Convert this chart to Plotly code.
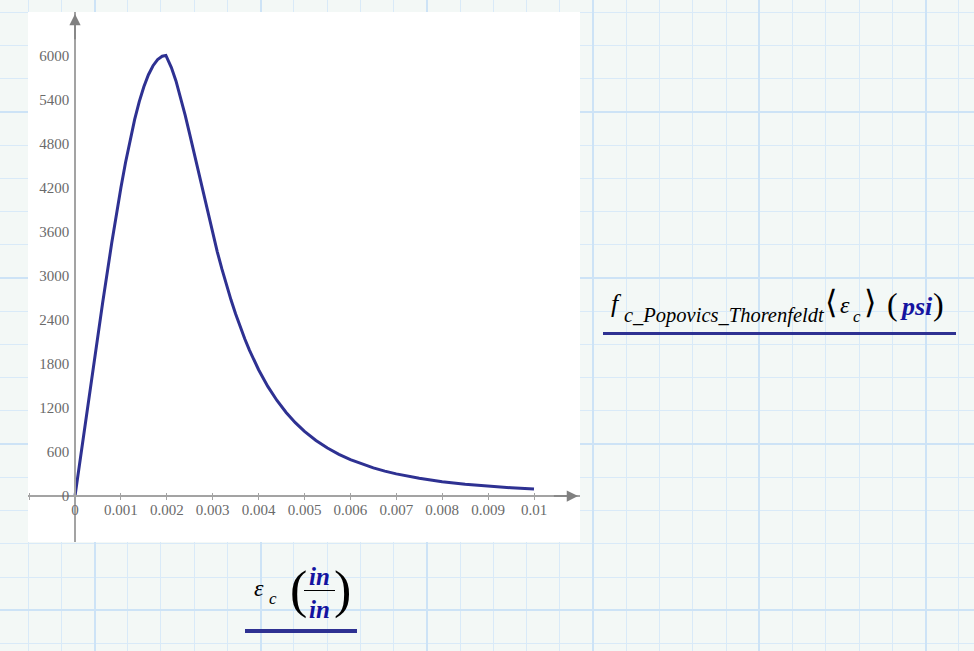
import plotly.graph_objects as go

# strain (in/in) and stress (psi)
strain = [0, 0.0002, 0.0004, 0.0006, 0.0008, 0.0009, 0.001, 0.0011, 0.0012, 0.0013,
          0.0014, 0.0015, 0.0016, 0.0017, 0.0018, 0.0019, 0.00198, 0.002, 0.0021, 0.0022,
          0.0023, 0.0024, 0.0025, 0.0026, 0.0027, 0.0028, 0.0029, 0.003, 0.0031, 0.0032,
          0.0033, 0.0034, 0.0035, 0.0036, 0.0037, 0.0038, 0.0039, 0.004, 0.0042, 0.0044,
          0.0046, 0.0048, 0.005, 0.00525, 0.0055, 0.00575, 0.006, 0.00625, 0.0065, 0.00675,
          0.007, 0.0075, 0.008, 0.0085, 0.009, 0.0095, 0.01]
stress = [0, 883, 1761, 2622, 3445, 3833, 4199, 4540, 4851, 5129,
          5371, 5574, 5738, 5861, 5945, 5990, 6000, 5975, 5836, 5653,
          5434, 5189, 4925, 4652, 4375, 4100, 3832, 3573, 3326, 3093,
          2874, 2669, 2479, 2302, 2138, 1987, 1848, 1720, 1493, 1301,
          1138, 999, 880, 756, 653, 567, 495, 434, 383, 339,
          301, 241, 195, 160, 133, 112, 94]

x_ticks = [-0.001, 0, 0.001, 0.002, 0.003, 0.004, 0.005, 0.006, 0.007, 0.008, 0.009, 0.01]
x_labels = ['', '0', '0.001', '0.002', '0.003', '0.004', '0.005', '0.006', '0.007', '0.008', '0.009', '0.01']
y_ticks = [0, 600, 1200, 1800, 2400, 3000, 3600, 4200, 4800, 5400, 6000]

W, H = 974, 651
curve_col = '#2e3192'
axis_col = '#a3a3a3'
unit_col = '#1414a0'
tick_font = dict(family='Liberation Serif', size=15, color='#6a6a6a')
serif = 'Liberation Serif'

X_RANGE = [-0.001024, 0.0110022]
Y_RANGE = [-626.6, 6592.5]

fig = go.Figure()

# empty trace so the grid-paper subplot exists
fig.add_trace(go.Scatter(x=[None], y=[None], xaxis='x', yaxis='y',
                         hoverinfo='skip', showlegend=False))

fig.add_trace(go.Scatter(x=strain, y=stress, mode='lines', xaxis='x2', yaxis='y2',
                         line=dict(color=curve_col, width=3), showlegend=False))

fig.add_trace(go.Scatter(x=[None], y=[None], xaxis='x3', yaxis='y2',
                         hoverinfo='skip', showlegend=False))

fig.update_layout(
    width=W, height=H,
    margin=dict(l=0, r=0, t=0, b=0),
    paper_bgcolor='#f3f8f6', plot_bgcolor='rgba(0,0,0,0)',
    # grid paper (pixel coordinates)
    xaxis=dict(domain=[0, 1], range=[0, W], showticklabels=False, ticks='', zeroline=False,
               showgrid=True, tick0=94.5, dtick=166.2, gridcolor='#cde3f6', gridwidth=1.6,
               minor=dict(tick0=28, dtick=33.24, showgrid=True, gridcolor='#d9eaf8', gridwidth=1),
               fixedrange=True),
    yaxis=dict(domain=[0, 1], range=[H, 0], showticklabels=False, ticks='', zeroline=False,
               showgrid=True, tick0=111.9, dtick=166.1, gridcolor='#cde3f6', gridwidth=1.6,
               minor=dict(tick0=12.3, dtick=33.22, showgrid=True, gridcolor='#d9eaf8', gridwidth=1),
               fixedrange=True),
    # chart axes crossing at the origin
    xaxis2=dict(domain=[28 / W, 580 / W], anchor='free', position=(H - 496) / H,
                range=X_RANGE, showgrid=False, zeroline=False,
                showline=True, linecolor=axis_col, linewidth=1.5,
                tickvals=x_ticks, ticktext=x_labels, ticks='outside', ticklen=3,
                tickcolor=axis_col, tickwidth=1.2, tickfont=tick_font, ticklabelstandoff=-3),
    xaxis3=dict(overlaying='x2', matches='x2', anchor='free', position=(H - 496) / H,
                showgrid=False, zeroline=False, showline=False, showticklabels=False,
                tickvals=x_ticks, ticks='inside', ticklen=3, tickcolor=axis_col, tickwidth=1.2),
    yaxis2=dict(domain=[(H - 542) / H, (H - 12) / H], anchor='free', position=75 / W,
                range=Y_RANGE, showgrid=False, zeroline=False,
                showline=True, linecolor=axis_col, linewidth=1.5,
                tickvals=y_ticks, ticks='', tickfont=tick_font, ticklabelstandoff=2),
)

shapes = [
    # white chart area, drawn in the chart subplot so it hides the paper grid
    dict(type='rect', xref='x2', yref='y2', x0=X_RANGE[0], x1=X_RANGE[1],
         y0=Y_RANGE[0], y1=Y_RANGE[1], fillcolor='white', line=dict(width=0), layer='below'),
    # underlines of the region labels
    dict(type='line', xref='x', yref='y', x0=603, x1=956, y0=333.5, y1=333.5,
         line=dict(color=curve_col, width=3)),
    dict(type='line', xref='x', yref='y', x0=245, x1=357, y0=631, y1=631,
         line=dict(color=curve_col, width=4)),
    # fraction bar in/in
    dict(type='line', xref='x', yref='y', x0=304, x1=335, y0=590.5, y1=590.5,
         line=dict(color='black', width=1)),
]
fig.update_layout(shapes=shapes)

ann = []
# axis arrows
ann.append(dict(xref='x2', yref='y2', axref='x2', ayref='y2', x=0.010959, y=0, ax=0.0104, ay=0,
                text='', showarrow=True, arrowhead=2, arrowsize=1.5, arrowwidth=1.5,
                arrowcolor='#808080', standoff=0))
ann.append(dict(xref='x2', yref='y2', axref='x2', ayref='y2', x=0, y=6565, ax=0, ay=6200,
                text='', showarrow=True, arrowhead=2, arrowsize=1.5, arrowwidth=1.5,
                arrowcolor='#808080', standoff=0))


def label(text, x, y, size, color='black', xanchor='left'):
    ann.append(dict(xref='x', yref='y', x=x, y=y, text=text, showarrow=False,
                    xanchor=xanchor, yanchor='middle', borderpad=0,
                    font=dict(family=serif, size=size, color=color)))


# y-axis label (right side)
label('<i>f</i>', 610, 303, 26)
label('<i>c_Popovics_Thorenfeldt</i>', 623, 315, 20.5)
label('⟨', 824, 302, 32)
label('<i>ε</i>', 839, 305, 24)
label('<i>c</i>', 852, 316, 17)
label('⟩', 863, 302, 32)
label('(', 886, 304, 32)
label('<b><i>psi</i></b>', 899, 306, 26, unit_col)
label(')', 932, 304, 32)

# x-axis label (bottom)
label('<i>ε</i>', 253, 588, 24)
label('<i>c</i>', 268, 598, 17)
label('(', 289, 590, 52)
label('<b><i>in</i></b>', 319.5, 576, 25, unit_col, 'center')
label('<b><i>in</i></b>', 319.5, 609, 25, unit_col, 'center')
label(')', 333, 590, 52)

fig.update_layout(annotations=ann)

# page body margin would otherwise shift the 974x651 figure by 8 px
fig.write_html("out.html", config={'displayModeBar': False},
               post_script="document.body.style.margin='0px';")
